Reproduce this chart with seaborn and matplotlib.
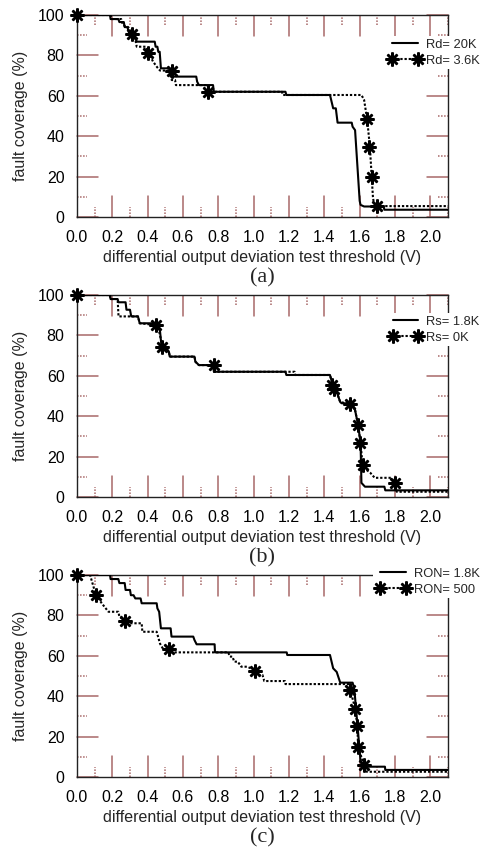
import matplotlib
matplotlib.use("Agg")
import matplotlib.pyplot as plt
from matplotlib.lines import Line2D
import numpy as np
import seaborn as sns

# ---------------- data ----------------
# Panel (a)
a_solid_x = [0, 0.187, 0.19, 0.234, 0.24, 0.265, 0.27, 0.285, 0.30, 0.32, 0.34, 0.44, 0.445, 0.455, 0.46, 0.468,
             0.475, 0.525, 0.53, 0.675, 0.68, 0.69, 0.77, 0.775, 1.18, 1.185, 1.432, 1.45, 1.465, 1.475, 1.555,
             1.56, 1.574, 1.60, 1.605, 1.625, 1.735, 1.74, 2.1]
a_solid_y = [100, 100, 98, 98, 96.5, 96.5, 94, 94, 89.5, 89.5, 86.8, 86.8, 84.3, 84.3, 81.8, 81.8,
             73.6, 73.6, 69.5, 69.5, 67, 65.3, 65.3, 62, 62, 60.4, 60.4, 53.8, 53.8, 46.7, 46.7,
             44.7, 43, 8, 6, 5.2, 5.2, 3.6, 3.6]
a_dot_x = [0, 0.19, 0.195, 0.25, 0.26, 0.29, 0.313, 0.33, 0.338, 0.39, 0.407, 0.43, 0.455, 0.47, 0.52, 0.536,
           0.536, 0.555, 0.56, 0.74, 0.745, 1.16, 1.165, 1.61, 1.625, 1.643, 1.658, 1.668, 1.675, 1.68, 1.70, 2.1]
a_dot_y = [100, 100, 98, 98, 95, 94, 90.6, 88, 84.3, 84.3, 81, 77, 74, 72.5, 72.5, 72,
           67.8, 67.8, 65.3, 65.3, 62, 62, 60.4, 60.4, 58, 48, 34.5, 20, 10, 7, 5.4, 5.4]
a_star_x = [0, 0.313, 0.404, 0.536, 0.743, 1.643, 1.655, 1.667, 1.70]
a_star_y = [100, 90.6, 81, 72.4, 62, 48.4, 34.5, 20, 5.3]
a_labels = ["Rd= 20K", "Rd= 3.6K"]

# Panel (b)
b_solid_x = [0, 0.185, 0.19, 0.23, 0.235, 0.275, 0.28, 0.30, 0.307, 0.345, 0.355, 0.45, 0.46, 0.47, 0.478,
             0.495, 0.50, 0.52, 0.525, 0.665, 0.67, 0.69, 0.77, 0.775, 1.18, 1.185, 1.432, 1.45, 1.47, 1.49,
             1.498, 1.555, 1.574, 1.592, 1.605, 1.61, 1.63, 1.74, 1.745, 2.1]
b_solid_y = [100, 100, 98, 98, 96.4, 96.4, 92.7, 92.7, 89.4, 89.4, 86, 86, 84, 82, 75,
             75, 74, 72, 69.5, 69.5, 67, 65.3, 65.3, 62, 62, 60.4, 60.4, 54.6, 52, 47,
             46.4, 46.4, 43, 35.3, 26.6, 7, 5.1, 5.1, 3.3, 3.3]
b_dot_x = [0, 0.187, 0.19, 0.23, 0.235, 0.345, 0.355, 0.451, 0.46, 0.47, 0.483, 0.50, 0.52, 0.525, 0.665,
           0.67, 0.69, 0.771, 0.78, 1.232, 1.235, 1.432, 1.45, 1.47, 1.49, 1.555, 1.574, 1.592, 1.605,
           1.617, 1.63, 1.66, 1.685, 1.78, 1.798, 1.81, 2.1]
b_dot_y = [100, 100, 98, 98, 89.4, 89.4, 86, 85.1, 84, 80, 74.4, 74, 72, 69.5, 69.5,
           67, 65.3, 65.3, 62, 62, 60.4, 60.4, 54.6, 52, 47, 45.9, 43, 35.3, 26.6,
           15.3, 14, 12, 9.5, 9.5, 7.1, 2.6, 2.6]
b_star_x = [0, 0.449, 0.481, 0.775, 1.445, 1.452, 1.547, 1.59, 1.60, 1.619, 1.798]
b_star_y = [100, 85, 74.5, 65.4, 55.5, 53.5, 46, 35.7, 26.6, 15.9, 7.1]
b_labels = ["Rs= 1.8K", "Rs= 0K"]

# Panel (c)
c_solid_x = [0, 0.187, 0.19, 0.234, 0.24, 0.27, 0.275, 0.30, 0.305, 0.32, 0.33, 0.36, 0.366, 0.451, 0.455,
             0.465, 0.475, 0.53, 0.535, 0.658, 0.665, 0.677, 0.779, 0.781, 1.187, 1.19, 1.432, 1.45, 1.47,
             1.49, 1.56, 1.57, 1.605, 1.62, 1.743, 1.745, 2.1]
c_solid_y = [100, 100, 98, 98, 96, 96, 92.6, 92.6, 90, 90, 88.4, 88.4, 86, 86, 83.5,
             81.8, 73.6, 73.6, 69.5, 69.5, 67.8, 65.7, 65.7, 61.7, 61.7, 60.4, 60.4, 53.8, 52,
             46.7, 46.7, 43.3, 8, 5.1, 5.1, 3.5, 3.5]
c_dot_x = [0, 0.074, 0.106, 0.14, 0.178, 0.234, 0.24, 0.272, 0.28, 0.366, 0.37, 0.451, 0.47, 0.49, 0.521,
           0.53, 0.856, 0.865, 0.88, 0.89, 0.91, 0.93, 0.964, 1.009, 1.03, 1.05, 1.06, 1.177, 1.18, 1.545,
           1.547, 1.575, 1.587, 1.591, 1.625, 1.64, 2.1]
c_dot_y = [100, 100, 90.4, 86, 81.8, 81.8, 79.4, 77.4, 76.1, 76.1, 71.9, 71.9, 66, 63, 63.3,
           61.7, 61.7, 59.6, 59.6, 57.1, 57.1, 54.6, 54.6, 52.7, 50.5, 50.5, 47.5, 47.5, 46, 46,
           43.1, 33.7, 25.3, 14.7, 6, 2.6, 2.6]
c_star_x = [0, 0.109, 0.274, 0.521, 1.009, 1.547, 1.575, 1.587, 1.591, 1.625]
c_star_y = [100, 90.2, 77.4, 63.3, 52.7, 43.1, 33.7, 25.3, 14.7, 6]
c_labels = ["RON= 1.8K", "RON= 500"]

captions = ["(a)", "(b)", "(c)"]
x_ticks = [0.0, 0.2, 0.4, 0.6, 0.8, 1.0, 1.2, 1.4, 1.6, 1.8, 2.0]
x_minor = [0.1, 0.3, 0.5, 0.7, 0.9, 1.1, 1.3, 1.5, 1.7, 1.9, 2.1]
y_ticks = [0, 20, 40, 60, 80, 100]
y_minor = [10, 30, 50, 70, 90]
x_label = "differential output deviation test threshold (V)"
y_label = "fault coverage (%)"

# ---------------- style ----------------
sns.set_theme(style="white")
plt.rcParams["font.family"] = ["Liberation Sans", "DejaVu Sans"]
TICK = "#a86868"
SPINE = "#222222"

fig = plt.figure(figsize=(4.83, 8.5), dpi=100)
W, H = 483.0, 850.0
ax_left, ax_right = 77, 448
tops = [15, 295, 575]
ax_h = 202
ax_w = ax_right - ax_left
legend_tops = [36, 313, 565]

panels = [
    (a_solid_x, a_solid_y, a_dot_x, a_dot_y, a_star_x, a_star_y, a_labels),
    (b_solid_x, b_solid_y, b_dot_x, b_dot_y, b_star_x, b_star_y, b_labels),
    (c_solid_x, c_solid_y, c_dot_x, c_dot_y, c_star_x, c_star_y, c_labels),
]

STAR = (8, 2, 0)
DOT = (0, (1.1, 0.9))
LW = 1.5
MAJ_PX, MIN_PX = 21, 10


def tick_marks(ax, xs, ys, length_px, ls):
    fx = length_px / ax_h
    fy = length_px / ax_w
    for xv in xs:
        ax.axvline(xv, ymin=0, ymax=fx, color=TICK, lw=1.1, ls=ls, zorder=1.5)
        ax.axvline(xv, ymin=1 - fx, ymax=1, color=TICK, lw=1.1, ls=ls, zorder=1.5)
    for yv in ys:
        ax.axhline(yv, xmin=0, xmax=fy, color=TICK, lw=1.1, ls=ls, zorder=1.5, clip_on=False)
        ax.axhline(yv, xmin=1 - fy, xmax=1, color=TICK, lw=1.1, ls=ls, zorder=1.5, clip_on=False)


for i, (sx, sy, dx, dy, stx, sty, labels) in enumerate(panels):
    top = tops[i]
    ax = fig.add_axes([ax_left / W, 1 - (top + ax_h) / H, ax_w / W, ax_h / H])
    ax.set_xlim(0, 2.1)
    ax.set_ylim(0, 100)
    tick_marks(ax, x_ticks, y_ticks, MAJ_PX, "-")
    tick_marks(ax, x_minor, y_minor, MIN_PX, (0, (1, 1)))

    sns.lineplot(x=sx, y=sy, ax=ax, color="black", lw=LW, sort=False, estimator=None, zorder=3)
    sns.lineplot(x=dx, y=dy, ax=ax, color="black", lw=LW, sort=False, estimator=None, linestyle=DOT,
                 zorder=3)
    sns.lineplot(x=stx, y=sty, ax=ax, color="black", sort=False, estimator=None, linestyle="",
                 marker=STAR, markersize=10, markeredgewidth=1.8, markeredgecolor="black",
                 markerfacecolor="black", clip_on=False, zorder=4)

    ax.set_xlim(0, 2.1)
    ax.set_ylim(0, 100)
    ax.set_xticks(x_ticks)
    ax.set_xticklabels([f"{v:.1f}" for v in x_ticks])
    ax.set_yticks(y_ticks)
    ax.set_yticklabels([str(v) for v in y_ticks])
    ax.tick_params(axis="both", which="major", length=0, labelsize=11.5, pad=9, labelcolor="black")
    for sp in ax.spines.values():
        sp.set_color(SPINE)
        sp.set_linewidth(1.0)
        sp.set_visible(True)
        sp.set_zorder(2)

    ax.set_xlabel(x_label, fontsize=11.5, labelpad=4)
    ax.set_ylabel(y_label, fontsize=11.5, labelpad=7)
    ax.text(0.5, -0.30, captions[i], transform=ax.transAxes, ha="center", va="center",
            fontsize=16, family=["Liberation Serif", "DejaVu Serif"])

    handles = [Line2D([], [], color="black", lw=LW),
               Line2D([], [], color="black", lw=LW, linestyle=DOT, marker=STAR,
                      markersize=10, markeredgewidth=1.8, markeredgecolor="black")]
    lt = legend_tops[i] - top
    leg = ax.legend(handles, labels, loc="upper right",
                    bbox_to_anchor=((482 - ax_left) / ax_w, 1 - lt / ax_h),
                    fontsize=9.3, frameon=True, framealpha=1, facecolor="white", edgecolor="white",
                    borderaxespad=0, borderpad=0.2, handlelength=2.6, handletextpad=0.3,
                    labelspacing=0.3, numpoints=2, fancybox=False)
    leg.get_frame().set_linewidth(0)
    leg.set_zorder(6)

fig.savefig("out.png", dpi=100)
